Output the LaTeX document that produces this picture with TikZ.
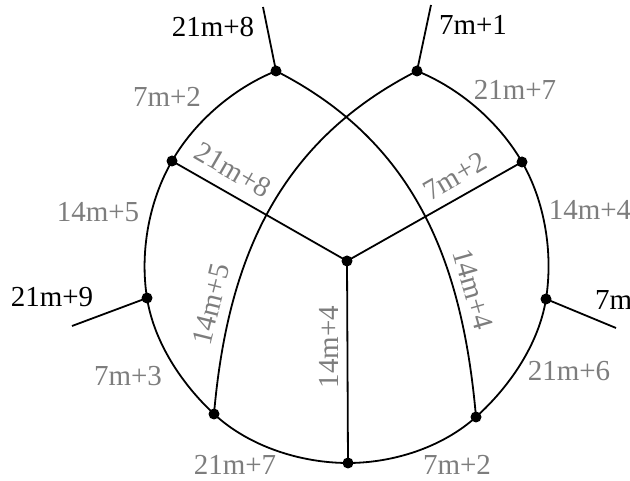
\documentclass[tikz,border=0pt]{standalone}
\usepackage{fontspec}
\setmainfont{Liberation Serif}
\usetikzlibrary{positioning}
\definecolor{lblGray}{RGB}{125,125,125}
\tikzset{
  vtx/.style={circle, fill=black, inner sep=0pt, minimum size=11pt},
  wire/.style={line width=1.8pt, looseness=0.85},
  inlbl/.style={font=\fontsize{29}{32}\selectfont, text=lblGray, inner sep=0pt},
  outlbl/.style={font=\fontsize{29}{32}\selectfont, inner sep=0pt}
}
\begin{document}
\begin{tikzpicture}[x=1pt,y=1pt]
  \useasboundingbox (0,0) rectangle (630,481);
  % vertices and free ends
  \foreach \n/\p in {A/{276,410}, B/{417,410}, C/{172,320}, D/{522,319}, E/{147,183}, F/{546,182}, G/{214,67}, H/{476,64}, I/{348,18}, O/{347,220}, a/{263,474}, b/{431,476}, e/{72,155}, f/{616,153}}
    \coordinate (\n) at (\p);
  % outer curve and the two inner arcs
  \draw[wire] (A) to[out=202,in=60] (C) to[out=240,in=99] (E) to[out=279,in=137] (G)
    to[out=317,in=180] (I) to[out=0,in=222] (H) to[out=42,in=261] (F)
    to[out=81,in=300] (D) to[out=120,in=338] (B);
  \draw[wire] (A) to[out=-27,in=95,looseness=1] (H);
  \draw[wire] (B) to[out=207,in=85,looseness=1] (G);
  \draw[wire] (C) -- (O) -- (D) (O) -- (I);
  \draw[wire] (A) -- (a) (B) -- (b) (E) -- (e) (F) -- (f);
  \foreach \n in {A,B,C,D,E,F,G,H,I,O} \node[vtx] (v\n) at (\n) {};
  % outer labels
  \node[outlbl] (la) at (213,454) {21m+8};
  \node[outlbl] (lb) at (473,456) {7m+1};
  \node[outlbl] (le) at (52,184) {21m+9};
  \node[outlbl, anchor=west] (lf) at (595,181) {7m};
  % edge labels
  \node[inlbl] (lAC) at (167,384) {7m+2};
  \node[inlbl] (lBD) at (515,391) {21m+7};
  \node[inlbl] (lCE) at (98,269) {14m+5};
  \node[inlbl] (lDF) at (590,271) {14m+4};
  \node[inlbl] (lEG) at (128,105) {7m+3};
  \node[inlbl] (lFH) at (569,110) {21m+6};
  \node[inlbl] (lGI) at (235,16) {21m+7};
  \node[inlbl] (lIH) at (457,16) {7m+2};
  \node[inlbl, rotate=-30] (lCO) at (233,311) {21m+8};
  \node[inlbl, rotate=30] (lOD) at (455,305) {7m+2};
  \node[inlbl, rotate=90] (lOI) at (329,134) {14m+4};
  \node[inlbl, rotate=76] (lBG) at (211,177) {14m+5};
  \node[inlbl, rotate=-74] (lAH) at (473,192) {14m+4};
\end{tikzpicture}
\end{document}
